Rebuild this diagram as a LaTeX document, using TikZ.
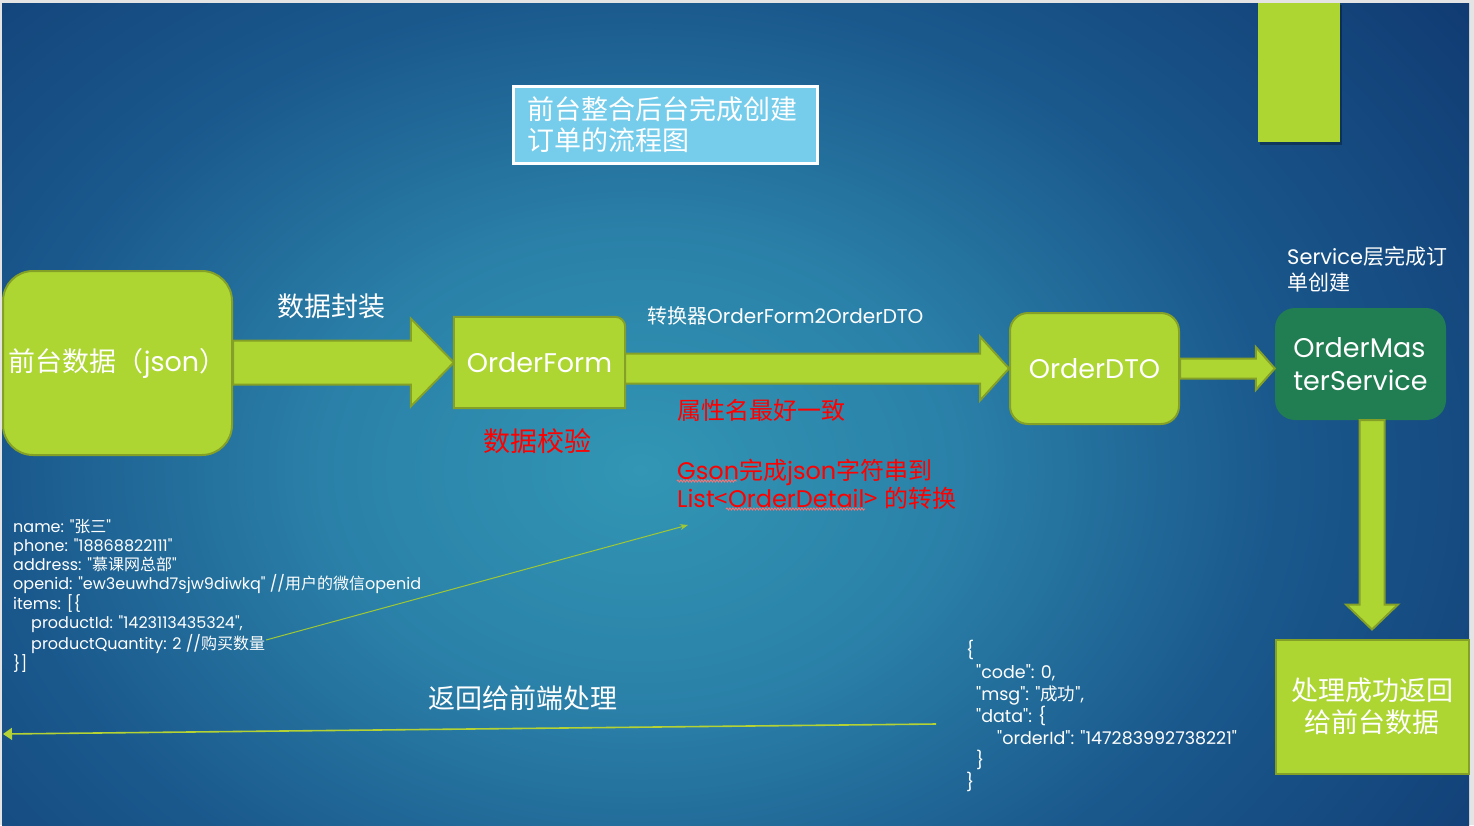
\documentclass[tikz,border=0pt]{standalone}
\usepackage{fontspec}
\setmainfont{Poppins}[Ligatures=TeXOff]
\newfontfamily\zhfont{Noto Sans CJK SC}
\newcommand\zh[1]{{\zhfont #1}}
\usetikzlibrary{calc,arrows.meta,decorations.pathmorphing}

\definecolor{lime}{RGB}{173,214,51}
\definecolor{limeedge}{RGB}{132,160,38}
\definecolor{svcgreen}{RGB}{33,125,82}
\definecolor{titlefill}{RGB}{117,205,235}
\definecolor{pagegray}{RGB}{228,228,228}
\definecolor{thinline}{RGB}{160,200,52}
\definecolor{retgreen}{RGB}{180,210,52}
\definecolor{bgA}{RGB}{50,150,180}
\definecolor{bgB}{RGB}{42,128,168}
\definecolor{bgC}{RGB}{26,88,140}
\definecolor{bgD}{RGB}{15,56,112}
\definecolor{bgE}{RGB}{10,40,100}
\definecolor{bgF}{RGB}{8,35,95}

\pgfdeclareradialshading{slidebg}{\pgfpoint{0bp}{0bp}}{%
  color(0bp)=(bgA); color(8bp)=(bgB); color(16bp)=(bgC);
  color(27bp)=(bgD); color(38bp)=(bgE); color(50bp)=(bgF)}

\tikzset{
  limebox/.style={fill=lime, draw=limeedge, line width=2pt, inner sep=0pt},
  blk/.style={fill=lime, draw=limeedge, line width=2pt, line join=miter},
  bigtext/.style={text=white, font=\fontsize{27}{32}\selectfont, inner sep=0pt},
  midtext/.style={text=white, font=\fontsize{20}{26}\selectfont, inner sep=0pt},
  redtext/.style={text=red, font=\fontsize{24}{28}\selectfont, inner sep=0pt},
  jsontext/.style={text=white, align=left, inner sep=0pt},
  squiggle/.style={draw=red!55!white, line width=0.8pt,
    decorate, decoration={snake, amplitude=1.1pt, segment length=3pt}}
}

\begin{document}
\begin{tikzpicture}[x=1pt, y=-1pt]
\useasboundingbox (0,0) rectangle (1474,825);
% page and slide background
\fill[pagegray] (0,0) rectangle (1474,825);
\begin{scope}
  \clip (2,3) rectangle (1469,825);
  \shade[shading=slidebg] (-360,-280) rectangle (1640,1220);
\end{scope}

% decorative bar, top right
\fill[black, opacity=0.3] (1260,5) rectangle (1342,145);
\node[fill=lime, minimum width=82pt, minimum height=139pt, inner sep=0pt] (bar) at (1299,72.5) {};

% title
\node[fill=titlefill, draw=white, line width=3pt, text width=276pt, inner xsep=14pt,
      minimum height=77pt, align=left, text=white,
      font=\zhfont\fontsize{27}{31}\selectfont] (title) at (665,124.5)
  {前台整合后台完成创建\\订单的流程图};

% main flow boxes
\node[limebox, rounded corners=30pt, minimum width=229pt, minimum height=184pt,
      bigtext] (front) at (117.5,363) {\zh{前台数据（}json\zh{）}};

\node[minimum width=171pt, minimum height=91pt, inner sep=0pt] (form) at (539.5,362.5) {};
\filldraw[limebox] (form.south west) -- (form.north west)
  -- ($(form.north east)+(-10,0)$) arc[start angle=-90, end angle=0, radius=10]
  -- (form.south east) -- cycle;
\node[bigtext] at (form.center) {OrderForm};

\node[limebox, rounded corners=18pt, minimum width=169pt, minimum height=111pt,
      bigtext] (dto) at (1094.5,368.5) {OrderDTO};

\node[fill=svcgreen, rounded corners=20pt, minimum width=171pt, minimum height=112pt,
      bigtext, align=left, font=\fontsize{27}{33}\selectfont] (svc) at (1360.5,364)
  {OrderMas\\terService};

\node[limebox, minimum width=193pt, minimum height=134pt, bigtext, align=center,
      font=\zhfont\fontsize{27}{32}\selectfont] (result) at (1372,706.5)
  {处理成功返回\\给前台数据};

% block arrows between the boxes
\path let \p1=(front.east), \p2=(form.west) in
  [blk] (\x1,\y2+22) -- (\x2-43,\y2+22) -- (\x2-43,\y2+44) -- (\x2,\y2)
  -- (\x2-43,\y2-44) -- (\x2-43,\y2-22) -- (\x1,\y2-22) -- cycle;
\path let \p1=(form.east), \p2=(dto.west) in
  [blk] (\x1,\y2+15) -- (\x2-29,\y2+15) -- (\x2-29,\y2+32) -- (\x2,\y2)
  -- (\x2-29,\y2-32) -- (\x2-29,\y2-15) -- (\x1,\y2-15) -- cycle;
\path let \p1=(dto.east), \p2=(svc.west) in
  [blk] (\x1,\y1+10) -- (\x2-19,\y1+10) -- (\x2-19,\y1+21.5) -- (\x2,\y1)
  -- (\x2-19,\y1-21.5) -- (\x2-19,\y1-10) -- (\x1,\y1-10) -- cycle;
\path let \p1=(svc.south), \p2=(result.north) in
  [blk] (\x2-12.5,\y1) -- (\x2-12.5,\y2+34) -- (\x2-26,\y2+34) -- (\x2,\y2+9)
  -- (\x2+26,\y2+34) -- (\x2+12.5,\y2+34) -- (\x2+12.5,\y1) -- cycle;

% labels
\node[bigtext, font=\zhfont\fontsize{27}{32}\selectfont] (packlbl) at (331,306) {数据封装};
\node[bigtext, text=red, font=\zhfont\fontsize{27}{32}\selectfont] (checklbl) at (537,441) {数据校验};
\node[midtext, anchor=west] (convlbl) at (647,316) {\zh{转换器}OrderForm2OrderDTO};
\node[midtext, anchor=west, align=left, font=\fontsize{21}{26}\selectfont] (svclbl) at (1287,269)
  {Service\zh{层完成订}\\\zh{单创建}};
\node[redtext, anchor=west] (attrlbl) at (677,410) {\zh{属性名最好一致}};
\node[redtext, anchor=west, align=left] (gsonlbl) at (677,484)
  {Gson\zh{完成}json\zh{字符串到}\\List\zh{<}OrderDetail\zh{>} \zh{的转换}};
\draw[squiggle] (677,481) -- (737,481);
\draw[squiggle] (726,509) -- (865,509);

% request body
\node[jsontext, anchor=west, font=\fontsize{16}{19}\selectfont] (req) at (13,596)
  {name: "\zh{张三}"\\
   phone: "18868822111"\\
   address: "\zh{慕课网总部}"\\
   openid: "ew3euwhd7sjw9diwkq" //\zh{用户的微信}openid\\
   items: {[}\{\\
   \hspace*{18pt}productId: "1423113435324",\\
   \hspace*{18pt}productQuantity: 2 //\zh{购买数量}\\
   \}{]}};

% response body
\node[jsontext, anchor=west, font=\fontsize{17.5}{22}\selectfont] (resp) at (966,715.5)
  {\{\\
   \hspace*{10pt}"code": 0,\\
   \hspace*{10pt}"msg": "\zh{成功}",\\
   \hspace*{10pt}"data": \{\\
   \hspace*{31pt}"orderId": "147283992738221"\\
   \hspace*{10pt}\}\\
   \}};

\node[bigtext, font=\zhfont\fontsize{27}{32}\selectfont] (backlbl) at (523,698) {返回给前端处理};

% thin connectors
\coordinate (qtyend) at (266,640);
\coordinate (gsonpt) at (688,525);
\draw[thinline, line width=1pt, -{Stealth[length=8pt, width=6pt]}] (qtyend) -- (gsonpt);

\coordinate (retstart) at (936,724);
\coordinate (frontedge) at (3,734);
\draw[retgreen, line width=1.6pt, -{Triangle[length=9pt, width=12pt]}] (retstart) -- (frontedge);
\end{tikzpicture}
\end{document}
